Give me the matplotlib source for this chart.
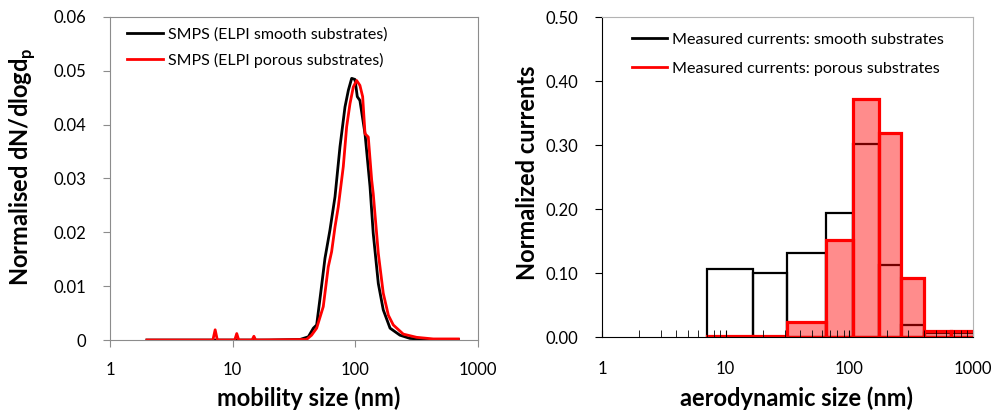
import matplotlib
matplotlib.use("Agg")
import matplotlib.pyplot as plt
from matplotlib.lines import Line2D
from matplotlib.ticker import LogLocator, NullFormatter, NullLocator

plt.rcParams["font.family"] = ["Lato", "DejaVu Sans"]
plt.rcParams["mathtext.fontset"] = "custom"
plt.rcParams["mathtext.rm"] = "Lato"
plt.rcParams["mathtext.bf"] = "Lato:bold"

# SMPS mobility size distributions
smooth_d = [2.0, 20, 35.4, 41.4, 45.5, 48.4, 52.2, 56.6, 62.1, 68.3, 75.0, 82.4,
            87.8, 93.4, 99.4, 103.8, 109, 120, 131.8, 140, 154, 169, 192, 231,
            279, 380, 692]
smooth_v = [0, 0, 0.0001, 0.0006, 0.0022, 0.0028, 0.0087, 0.0152, 0.0204, 0.0266,
            0.0359, 0.0433, 0.0464, 0.0486, 0.0484, 0.0452, 0.0445, 0.0383, 0.0285,
            0.0198, 0.0105, 0.0056, 0.0022, 0.0009, 0.0003, 0.0001, 0.0001]

porous_d = [2.0, 6.9, 7.2, 7.5, 10.4, 10.8, 11.2, 14.4, 14.9, 15.4, 40, 44, 48.4,
            54.8, 60.2, 64.1, 68.3, 72.6, 79.8, 85, 90.5, 96.3, 102.5, 109, 114.8,
            120, 127.6, 136, 140, 154, 169, 186, 204, 246, 316, 432, 692]
porous_v = [0, 0, 0.0019, 0, 0, 0.0012, 0, 0, 0.0007, 0, 0.0001, 0.0009, 0.0022,
            0.0062, 0.0136, 0.0164, 0.021, 0.0247, 0.0322, 0.0396, 0.0439, 0.047,
            0.0482, 0.0473, 0.0452, 0.0383, 0.0377, 0.0297, 0.0272, 0.0161, 0.0087,
            0.0046, 0.0028, 0.0011, 0.0005, 0.0002, 0.0002]

# ELPI stage edges (nm) and normalized currents
stage_edges = [7.0, 16.6, 31.5, 64.3, 106.8, 172, 262, 404, 664, 1090]
smooth_cur = [0.107, 0.100, 0.131, 0.194, 0.301, 0.112, 0.018, 0.007, 0.006]
porous_cur = [0.002, 0.002, 0.023, 0.152, 0.372, 0.319, 0.092, 0.010, 0.009]

x_ticks = [1, 10, 100, 1000]
x_labels = ["1", "10", "100", "1000"]
left_yticks = [0, 0.01, 0.02, 0.03, 0.04, 0.05, 0.06]
left_ylabels = ["0", "0.01", "0.02", "0.03", "0.04", "0.05", "0.06"]
right_yticks = [0, 0.1, 0.2, 0.3, 0.4, 0.5]
right_ylabels = ["0.00", "0.10", "0.20", "0.30", "0.40", "0.50"]

GRAY = "#8c8c8c"
LIGHT = "#b3b3b3"

fig = plt.figure(figsize=(9.91, 4.11), dpi=100)
ax1 = fig.add_axes([0.111, 0.1727, 0.3713, 0.786])
ax2 = fig.add_axes([0.6075, 0.180, 0.3744, 0.7786])

# left: SMPS curves
ax1.plot(smooth_d, smooth_v, color="black", lw=2.0, label="SMPS (ELPI smooth substrates)")
ax1.plot(porous_d, porous_v, color="red", lw=2.0, label="SMPS (ELPI porous substrates)")
ax1.set_xscale("log")
ax1.set_xlim(1, 1000)
ax1.set_ylim(0, 0.06)
ax1.set_xticks(x_ticks)
ax1.set_xticklabels(x_labels)
ax1.xaxis.set_minor_locator(NullLocator())
ax1.set_yticks(left_yticks)
ax1.set_yticklabels(left_ylabels)
for s in ax1.spines.values():
    s.set_color(GRAY)
ax1.tick_params(axis="both", direction="out", length=5, color=GRAY, labelsize=12)
ax1.tick_params(axis="x", pad=11)
ax1.tick_params(axis="y", pad=12)
ax1.set_xlabel("mobility size (nm)", fontsize=17, fontweight="bold")
ax1.xaxis.set_label_coords(0.54, -0.145)
ax1.set_ylabel(r"Normalised dN/dlogd$_\mathbf{p}$", fontsize=17, fontweight="bold")
ax1.yaxis.set_label_coords(-0.195, 0.536)
ax1.legend(loc="upper left", bbox_to_anchor=(0.045, 0.968), frameon=False,
           fontsize=11.5, handlelength=2.3, handletextpad=0.3, labelspacing=0.7,
           borderpad=0, borderaxespad=0)

# right: ELPI currents
widths = [b - a for a, b in zip(stage_edges[:-1], stage_edges[1:])]
ax2.bar(stage_edges[:-1], smooth_cur, width=widths, align="edge",
        facecolor="none", edgecolor="black", lw=1.6)
ax2.bar(stage_edges[:-1], porous_cur, width=widths, align="edge",
        facecolor=(1, 0, 0, 0.45), edgecolor="red", lw=2.3)
ax2.set_xscale("log")
ax2.set_xlim(1, 1000)
ax2.set_ylim(0, 0.5)
ax2.set_xticks(x_ticks)
ax2.set_xticklabels(x_labels)
ax2.xaxis.set_minor_locator(LogLocator(base=10, subs=range(2, 10)))
ax2.xaxis.set_minor_formatter(NullFormatter())
ax2.set_yticks(right_yticks)
ax2.set_yticklabels(right_ylabels)
ax2.spines["top"].set_color(LIGHT)
ax2.spines["right"].set_color(LIGHT)
ax2.tick_params(axis="x", which="both", direction="in", length=5, labelsize=12, pad=17)
ax2.tick_params(axis="y", direction="out", length=5, labelsize=12, pad=12)
ax2.set_xlabel("aerodynamic size (nm)", fontsize=17, fontweight="bold")
ax2.xaxis.set_label_coords(0.523, -0.155)
ax2.set_ylabel("Normalized currents", fontsize=17, fontweight="bold")
ax2.yaxis.set_label_coords(-0.17, 0.5125)

handles = [Line2D([], [], color="black", lw=2.0), Line2D([], [], color="red", lw=2.0)]
ax2.legend(handles, ["Measured currents: smooth substrates",
                     "Measured currents: porous substrates"],
           loc="upper left", bbox_to_anchor=(0.08, 0.951), frameon=False,
           fontsize=11.6, handlelength=2.2, handletextpad=0.3, labelspacing=0.9,
           borderpad=0, borderaxespad=0)

fig.savefig("out.png", dpi=100)
